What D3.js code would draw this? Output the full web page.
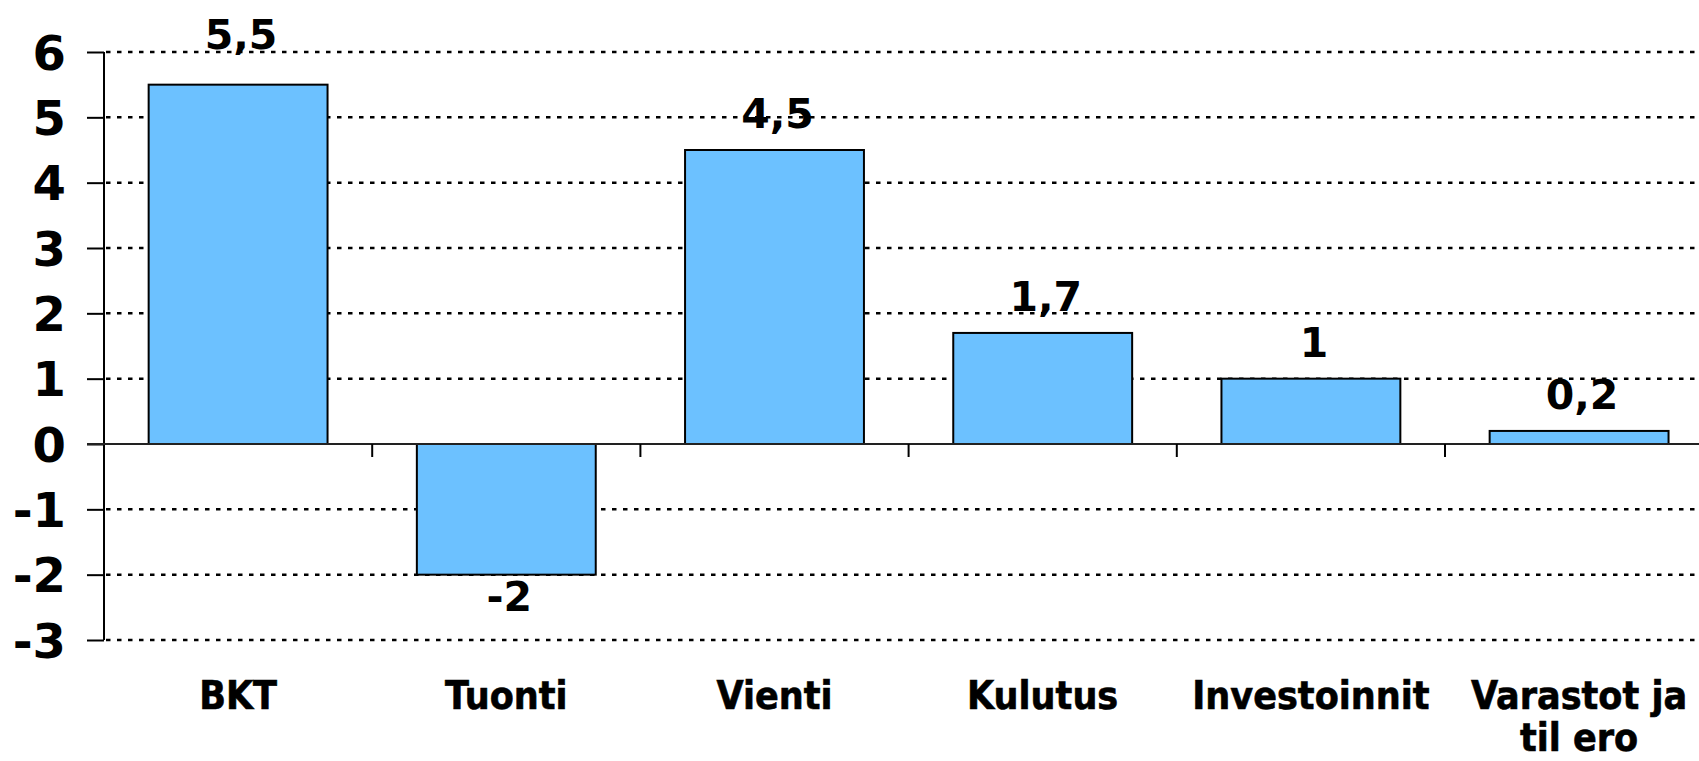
<!DOCTYPE html>
<html>
<head>
<meta charset="utf-8">
<script src="https://cdn.jsdelivr.net/npm/d3@7"></script>
<style>
  html, body { margin: 0; padding: 0; background: #fff; overflow: hidden; }
  svg { display: block; }
</style>
</head>
<body>
<svg id="chart" width="1699" height="761"></svg>
<script>
// ---- data ----
const categories = ["BKT", "Tuonti", "Vienti", "Kulutus", "Investoinnit", "Varastot ja til ero"];
const categoryLines = [["BKT"], ["Tuonti"], ["Vienti"], ["Kulutus"], ["Investoinnit"], ["Varastot ja", "til ero"]];
const values = [5.5, -2, 4.5, 1.7, 1, 0.2];
const valueLabels = ["5,5", "-2", "4,5", "1,7", "1", "0,2"];
const yTicks = [-3, -2, -1, 0, 1, 2, 3, 4, 5, 6];
const yTickLabels = ["-3", "-2", "-1", "0", "1", "2", "3", "4", "5", "6"];

// ---- layout ----
const W = 1699, H = 761;
const plotLeft = 104, plotTop = 52, plotBottom = 640;
const catStep = 268.2;
const plotRight = plotLeft + catStep * categories.length;
const barFrac = 0.667;
const labelNudge = { "BKT": -14 };
const barColor = "#6cc1ff";

const svg = d3.select("#chart");

const x = d3.scaleBand().domain(categories).range([plotLeft, plotRight]).padding(0);
const y = d3.scaleLinear().domain([-3, 6]).range([plotBottom, plotTop]);
const bw = x.bandwidth() * barFrac;

// gridlines
svg.append("g").selectAll("line").data(yTicks.filter(d => d !== 0)).join("line")
  .attr("x1", plotLeft + 2).attr("x2", W)
  .attr("y1", d => y(d)).attr("y2", d => y(d))
  .attr("stroke", "#000").attr("stroke-width", 2.5)
  .attr("stroke-dasharray", "4.5,6.5");

// y axis
const yAxis = d3.axisLeft(y).tickValues(yTicks).tickSize(17).tickPadding(4)
  .tickFormat(d => yTickLabels[yTicks.indexOf(d)]);
const gy = svg.append("g").attr("transform", `translate(${plotLeft},0)`).call(yAxis);
gy.select(".domain").remove();
gy.selectAll(".tick line").attr("stroke", "#000").attr("stroke-width", 2);
gy.selectAll(".tick text")
  .attr("font-family", "'DejaVu Sans', Verdana, sans-serif")
  .attr("font-weight", "bold").attr("font-size", 48).attr("fill", "#000")
  .attr("x", -38).attr("dy", "0.36em");
svg.append("line")
  .attr("x1", plotLeft).attr("x2", plotLeft)
  .attr("y1", y(6)).attr("y2", y(-3))
  .attr("stroke", "#000").attr("stroke-width", 2);

// bars
svg.append("g").selectAll("rect").data(categories).join("rect")
  .attr("x", (d) => x(d) + (x.bandwidth() - bw) / 2)
  .attr("width", bw)
  .attr("y", (d, i) => y(Math.max(0, values[i])))
  .attr("height", (d, i) => Math.abs(y(values[i]) - y(0)))
  .attr("fill", barColor).attr("stroke", "#000").attr("stroke-width", 2);

// zero axis line + category ticks
svg.append("line")
  .attr("x1", plotLeft - 17).attr("x2", W)
  .attr("y1", y(0)).attr("y2", y(0))
  .attr("stroke", "#222").attr("stroke-width", 2);
svg.append("g").selectAll("line").data(categories.slice(1)).join("line")
  .attr("x1", d => x(d)).attr("x2", d => x(d))
  .attr("y1", y(0)).attr("y2", y(0) + 13)
  .attr("stroke", "#000").attr("stroke-width", 2);

// value labels
svg.append("g").selectAll("text").data(categories).join("text")
  .attr("x", d => x(d) + x.bandwidth() / 2 + 3)
  .attr("y", (d, i) => values[i] >= 0 ? y(values[i]) - 22 + (labelNudge[d] || 0) : y(values[i]) + 36)
  .attr("text-anchor", "middle")
  .attr("font-family", "'DejaVu Sans', Verdana, sans-serif")
  .attr("font-weight", "bold").attr("font-size", 41).attr("fill", "#000")
  .text((d, i) => valueLabels[i]);

// category labels
const cg = svg.append("g").selectAll("text").data(categories).join("text")
  .attr("text-anchor", "middle")
  .attr("font-family", "'DejaVu Sans Condensed', 'DejaVu Sans', sans-serif")
  .attr("font-stretch", "condensed")
  .attr("font-weight", "bold").attr("font-size", 39).attr("fill", "#000")
  .attr("stroke", "#000").attr("stroke-width", 0.6);
cg.each(function (d, i) {
  const t = d3.select(this);
  const cx = x(d) + x.bandwidth() / 2;
  categoryLines[i].forEach((ln, j) => {
    t.append("tspan").attr("x", cx).attr("y", 709 + j * 42).text(ln);
  });
});
</script>
</body>
</html>
